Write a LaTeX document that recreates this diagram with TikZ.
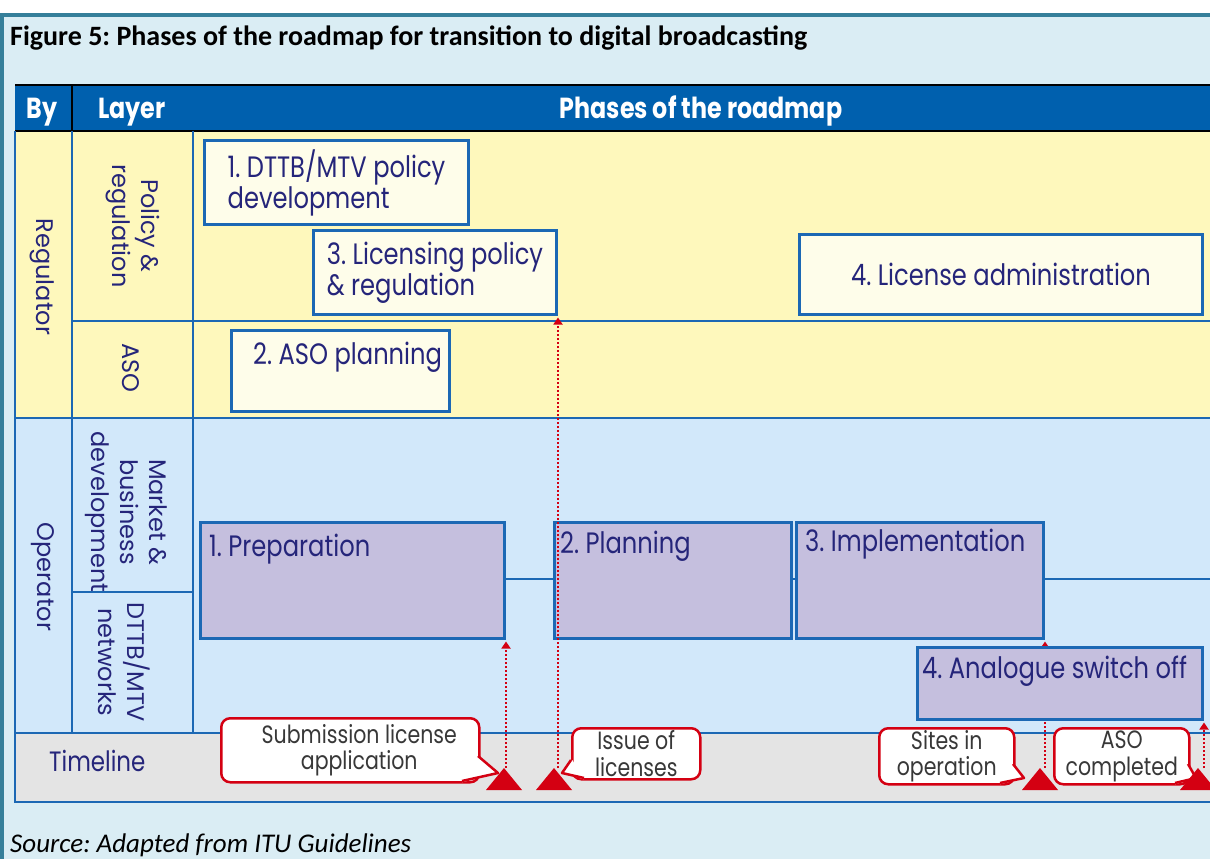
\documentclass[tikz,border=0pt]{standalone}
\usepackage{fontspec}
\setmainfont{Poppins}[FakeStretch=0.82]
\newfontfamily\sidefont{Poppins}
\newfontfamily\capfont{Carlito}
\usetikzlibrary{positioning,arrows.meta}
\frenchspacing

\definecolor{pagebg}{HTML}{DAEDF4}
\definecolor{frameteal}{HTML}{357F9A}
\definecolor{headblue}{HTML}{0060AE}
\definecolor{regyellow}{HTML}{FEF8BC}
\definecolor{opblue}{HTML}{D2E8FA}
\definecolor{timegray}{HTML}{E4E4E4}
\definecolor{gridblue}{HTML}{1C68B4}
\definecolor{ivory}{HTML}{FEFDEA}
\definecolor{lavender}{HTML}{C5BFDE}
\definecolor{navytext}{HTML}{25257A}
\definecolor{markred}{HTML}{D40012}
\definecolor{calltext}{HTML}{383838}

\begin{document}
\begin{tikzpicture}[x=1pt,y=-1pt]
\tikzstyle{gridline}=[draw=gridblue,line width=2.5pt]
\tikzstyle{regbox}=[draw=gridblue,line width=3pt,fill=ivory,text=navytext,anchor=north west,align=left,inner sep=0pt,font=\fontsize{29.5}{31}\selectfont]
\tikzstyle{opbox}=[draw=gridblue,line width=3pt,fill=lavender,anchor=north west,inner sep=0pt]
\tikzstyle{boxtext}=[text=navytext,anchor=base west,inner sep=0pt,font=\fontsize{29.5}{31}\selectfont]
\tikzstyle{sidetext}=[text=navytext,rotate=-90,align=center,inner sep=0pt,font=\sidefont\fontsize{24}{29}\selectfont]
\tikzstyle{headtext}=[text=white,anchor=base,inner sep=0pt,font=\bfseries\fontsize{29}{32}\selectfont]
\tikzstyle{callout}=[draw=markred,line width=2.5pt,fill=white,rounded corners=9pt,anchor=north west,inner sep=0pt,text=calltext,align=center,font=\fontsize{25}{26.5}\selectfont]
\tikzstyle{calltail}=[draw=markred,line width=2.5pt,line join=round]
\tikzstyle{milestonearrow}=[draw=markred,line width=2pt,dotted,shorten >=1.5pt,-{Triangle[width=9pt,length=7pt]}]
\useasboundingbox (0,0) rectangle (1210,859);
%%%%%%%%%%%%%%%%%%%%%%%%%%%%%%%%%%%%%%%%%%%%%%%%%%%%%%%%%%%%%%%%%%%%%%%%%%%%%%%%%%%%%%%%
%% Frame and caption
%%%%%%%%%%%%%%%%%%%%%%%%%%%%%%%%%%%%%%%%%%%%%%%%%%%%%%%%%%%%%%%%%%%%%%%%%%%%%%%%%%%%%%%%
\fill[white] (0,0) rectangle (1210,859);
\fill[pagebg] (0,13) rectangle (1210,859);
\fill[frameteal] (0,13) rectangle (1210,17);
\fill[frameteal] (0,13) rectangle (4,859);
\node[anchor=base west,inner sep=0pt,font=\capfont\bfseries\fontsize{28}{32}\selectfont] (title) at (10,46) {Figure 5: Phases of the roadmap for transition to digital broadcasting};
\node[anchor=base west,inner sep=0pt,font=\capfont\itshape\fontsize{27}{30}\selectfont] (source) at (10,852) {Source: Adapted from ITU Guidelines};

%%%%%%%%%%%%%%%%%%%%%%%%%%%%%%%%%%%%%%%%%%%%%%%%%%%%%%%%%%%%%%%%%%%%%%%%%%%%%%%%%%%%%%%%
%% Table bands
%%%%%%%%%%%%%%%%%%%%%%%%%%%%%%%%%%%%%%%%%%%%%%%%%%%%%%%%%%%%%%%%%%%%%%%%%%%%%%%%%%%%%%%%
\fill[headblue] (15,85) rectangle (1215,131);
\fill[regyellow] (15,131) rectangle (1215,418);
\fill[opblue] (15,418) rectangle (1215,733);
\fill[timegray] (15,733) rectangle (1215,802);
\draw[black,line width=1.5pt] (15,85) -- (1215,85);
\draw[black,line width=1.5pt] (15,131) -- (1215,131);
\draw[black,line width=1.5pt] (72,85) -- (72,131);

% grid
\draw[gridline] (15,131) -- (15,802) -- (1215,802);
\draw[gridline] (72,131) -- (72,733);
\draw[gridline] (193,131) -- (193,733);
\draw[gridline] (72,321) -- (1215,321);
\draw[gridline] (15,418) -- (1215,418);
\draw[gridline] (72,592) -- (193,592);
\draw[gridline] (15,733) -- (1215,733);

% header texts
\node[headtext] (hby) at (42,118) {By};
\node[headtext,anchor=base west] (hlayer) at (98,118) {Layer};
\node[headtext] (hphase) at (701,118) {Phases of the roadmap};

% side labels
\node[sidetext] (lreg) at (42,277) {Regulator};
\node[sidetext] (lpol) at (133,226) {Policy \&\\regulation};
\node[sidetext] (laso) at (131,368) {ASO};
\node[sidetext] (lop) at (43,577) {Operator};
\node[sidetext] (lmkt) at (126,512) {Market \&\\business\\development};
\node[sidetext] (lnet) at (124,662) {DTTB/MTV\\networks};
\node[text=navytext,anchor=base west,inner sep=0pt,font=\fontsize{28}{30}\selectfont] (ltime) at (49,771) {Timeline};

%%%%%%%%%%%%%%%%%%%%%%%%%%%%%%%%%%%%%%%%%%%%%%%%%%%%%%%%%%%%%%%%%%%%%%%%%%%%%%%%%%%%%%%%
%% Regulator phases
%%%%%%%%%%%%%%%%%%%%%%%%%%%%%%%%%%%%%%%%%%%%%%%%%%%%%%%%%%%%%%%%%%%%%%%%%%%%%%%%%%%%%%%%
\node[regbox,minimum width=264pt,minimum height=84pt] (policy) at (203,139) {1. DTTB/MTV policy\\development};
\node[regbox,minimum width=243pt,minimum height=84pt] (lic) at (312,229) {3. Licensing policy\\\& regulation};
\node[regbox,minimum width=403pt,minimum height=80pt] (admin) at (798,233) {4. License administration};
\node[regbox,minimum width=218pt,minimum height=81pt] (asoplan) at (230,329) {};
\node[boxtext] (asoplantext) at (253,364) {2. ASO planning};

%%%%%%%%%%%%%%%%%%%%%%%%%%%%%%%%%%%%%%%%%%%%%%%%%%%%%%%%%%%%%%%%%%%%%%%%%%%%%%%%%%%%%%%%
%% Operator phases
%%%%%%%%%%%%%%%%%%%%%%%%%%%%%%%%%%%%%%%%%%%%%%%%%%%%%%%%%%%%%%%%%%%%%%%%%%%%%%%%%%%%%%%%
\draw[gridline] (502,579) -- (1215,579);
\node[opbox,minimum width=304pt,minimum height=116pt] (prep) at (199,521) {};
\node[opbox,minimum width=237pt,minimum height=116pt] (plan) at (553,521) {};
\node[opbox,minimum width=247pt,minimum height=116pt] (impl) at (795,521) {};
\node[boxtext] (preptext) at (209,556) {1. Preparation};
\node[boxtext] (plantext) at (560,553) {2. Planning};
\node[boxtext] (impltext) at (805,551) {3. Implementation};

%%%%%%%%%%%%%%%%%%%%%%%%%%%%%%%%%%%%%%%%%%%%%%%%%%%%%%%%%%%%%%%%%%%%%%%%%%%%%%%%%%%%%%%%
%% Milestones
%%%%%%%%%%%%%%%%%%%%%%%%%%%%%%%%%%%%%%%%%%%%%%%%%%%%%%%%%%%%%%%%%%%%%%%%%%%%%%%%%%%%%%%%
\coordinate (m1) at (504,768);
\coordinate (m2) at (554,768);
\coordinate (m3) at (1040,768);
\coordinate (m4) at (1198,768);

\draw[milestonearrow] (prep.south east |- m1) -- (prep.south east);
\draw[milestonearrow] (lic.south east |- m2) -- (lic.south east);
\draw[milestonearrow] (impl.south east |- m3) -- (impl.south east);

\node[opbox,minimum width=285pt,minimum height=72pt] (analog) at (916,646) {};
\node[boxtext] (analogtext) at (922,678) {4. Analogue switch off};
\draw[milestonearrow] (analog.south east |- m4) -- (analog.south east);

% callouts
\node[callout,minimum width=258pt,minimum height=64pt] (subm) at (220,717) {\hspace*{18pt}Submission license\\\hspace*{18pt}application};
\fill[white] (476.5,756) -- (498,773) -- (462,782.3) -- cycle;
\draw[calltail] (478,756) -- (498,773) -- (462,781);

\node[callout,minimum width=128pt,minimum height=51pt] (issue) at (571,727) {Issue of\\licenses};
\fill[white] (572.3,760) -- (562,773) -- (584,779.3) -- cycle;
\draw[calltail] (571,760) -- (562,773) -- (584,778);

\node[callout,minimum width=135pt,minimum height=56pt] (sites) at (878,727) {Sites in\\operation};
\fill[white] (1011.7,764) -- (1024,778) -- (1000,784.3) -- cycle;
\draw[calltail] (1013,764) -- (1024,778) -- (1000,783);

\node[callout,minimum width=135pt,minimum height=56pt] (asodone) at (1053,727) {ASO\\completed};
\fill[white] (1186.7,764) -- (1196,778) -- (1175,784.3) -- cycle;
\draw[calltail] (1188,764) -- (1196,778) -- (1175,783);

% triangles
\foreach \m in {m1,m2,m3,m4}
  \fill[markred] (\m) -- ++(18,22) -- ++(-36,0) -- cycle;

\end{tikzpicture}
\end{document}
